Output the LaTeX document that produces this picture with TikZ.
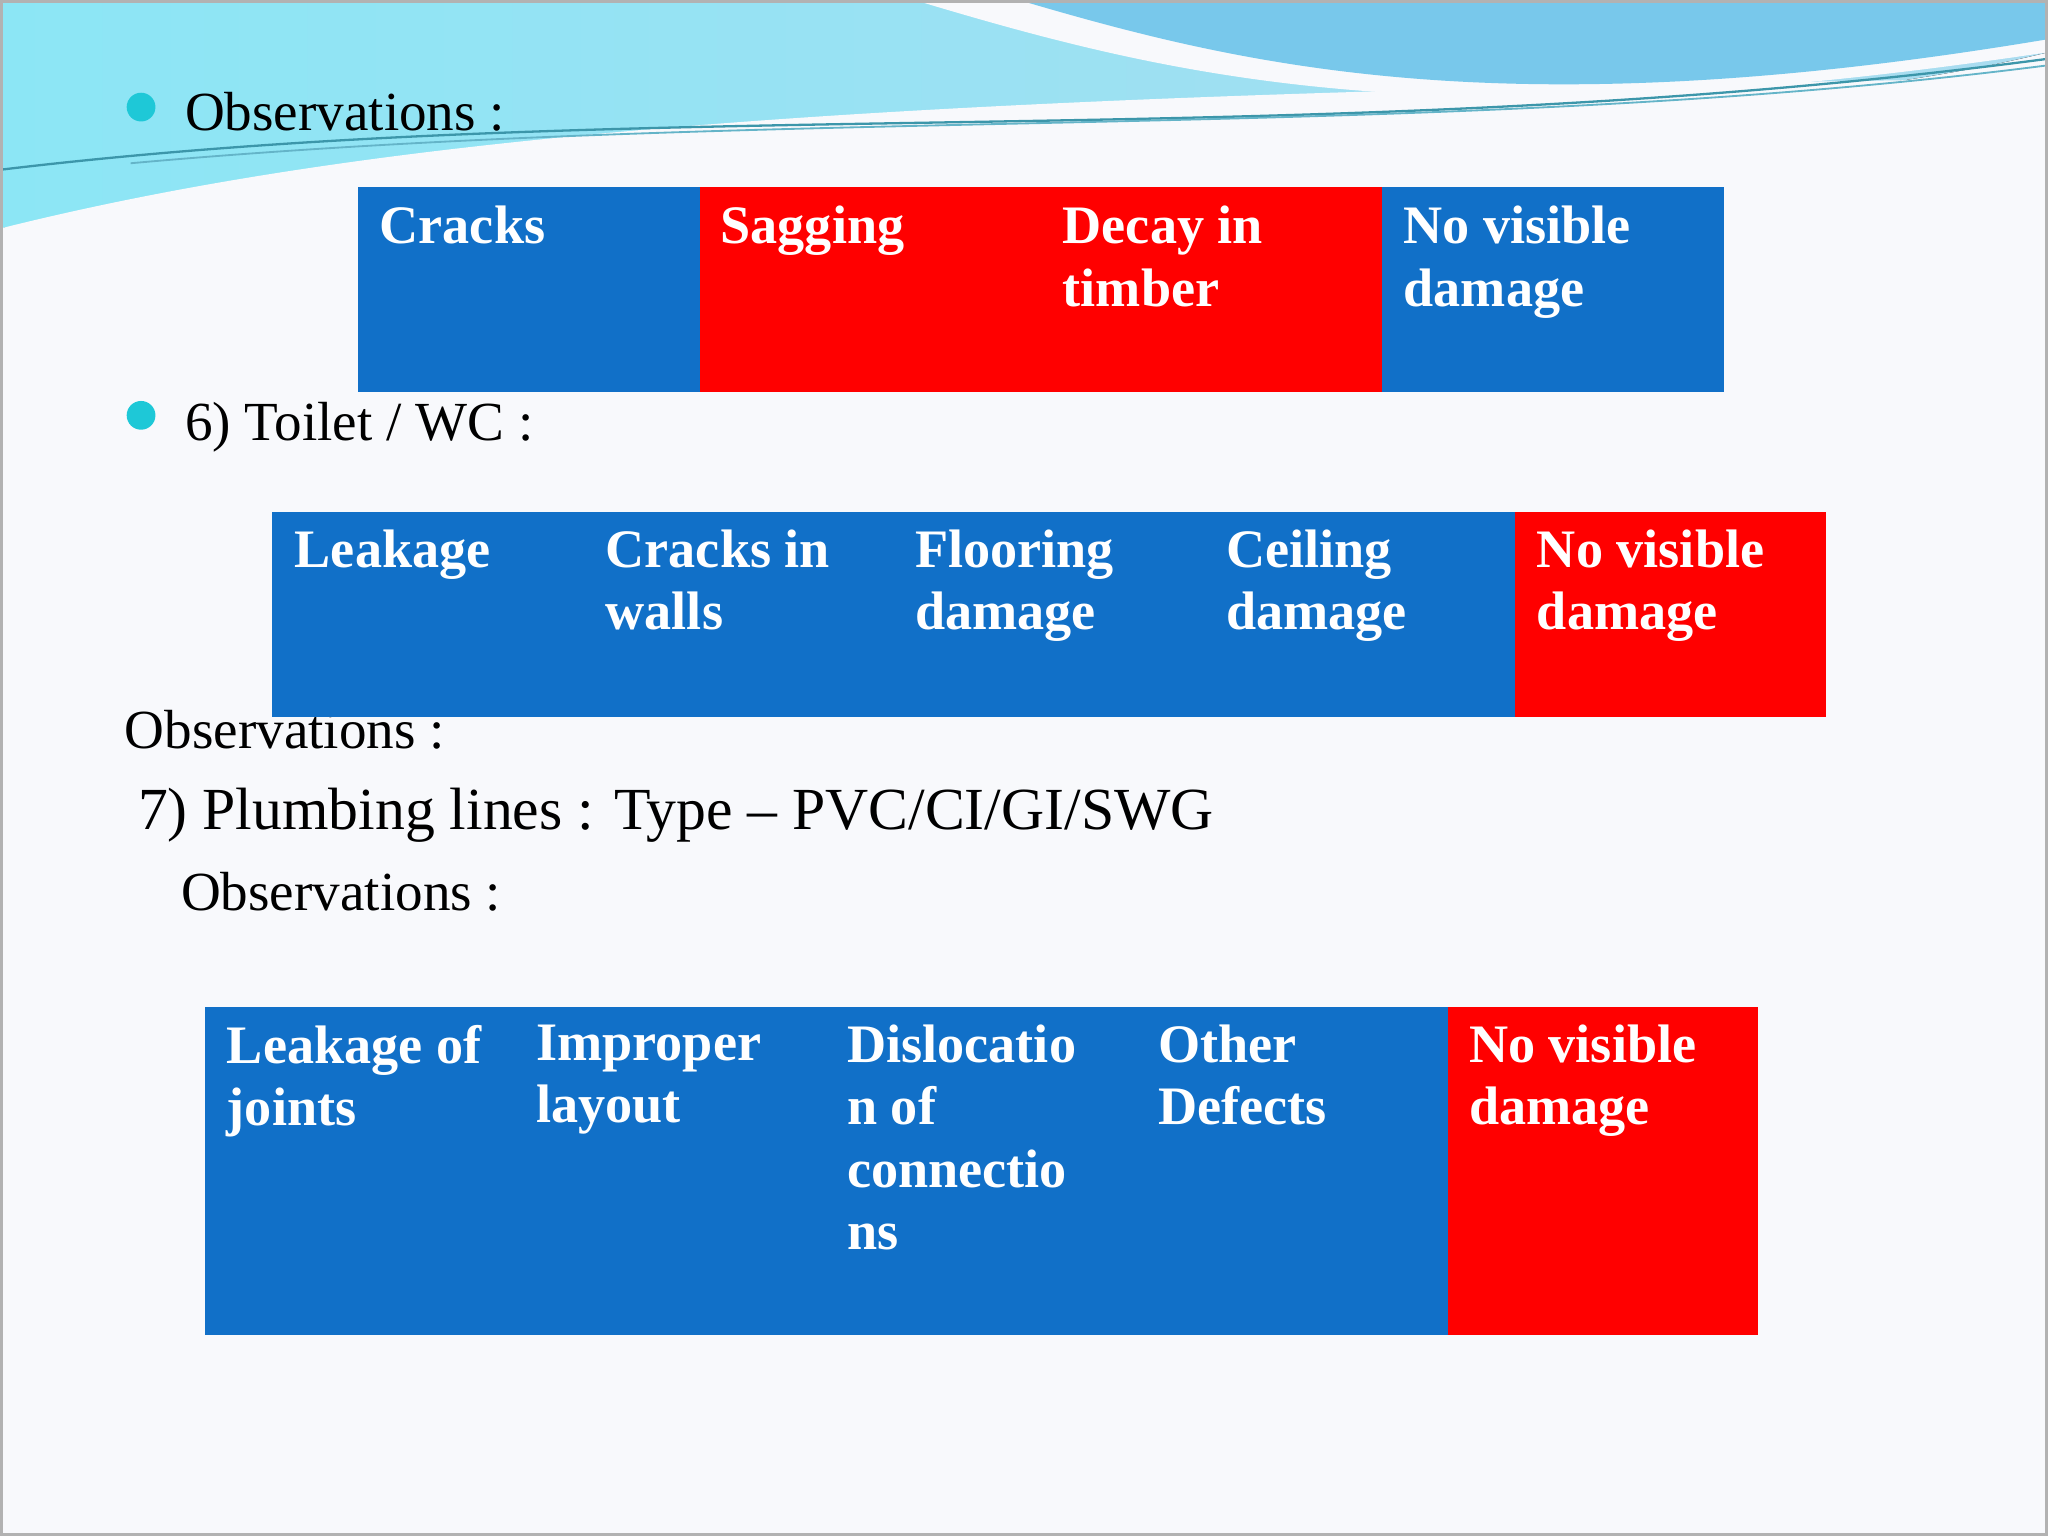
\documentclass[tikz,border=0pt]{standalone}
\usepackage{fontspec}
\setmainfont{Liberation Serif}
\definecolor{cblue}{RGB}{17,112,200}
\definecolor{cbul}{RGB}{30,200,215}
\definecolor{wa}{RGB}{140,230,245}
\definecolor{wb}{RGB}{170,220,240}
\definecolor{wc}{RGB}{120,200,235}
\definecolor{la}{RGB}{60,150,170}
\definecolor{lb}{RGB}{100,180,200}
\definecolor{bg}{RGB}{248,249,252}
\begin{document}
\begin{tikzpicture}[x=0.01cm,y=-0.01cm,
  blu/.style={fill=cblue,draw=none},
  rd/.style={fill=red,draw=none},
  cell/.style={anchor=north west,align=left,inner sep=0pt,text=white,font=\fontsize{11.8}{13.6}\selectfont\bfseries},
  body/.style={anchor=base west,inner sep=0pt,font=\fontsize{12}{14}\selectfont},
  bul/.style={circle,fill=cbul,minimum size=0.22cm,inner sep=0pt}]
\useasboundingbox (0,0) rectangle (1568,1176);
\fill[bg] (0,0) rectangle (1568,1176);
% header waves
\fill[left color=wa,right color=wb] (0,0) -- (1568,0) -- (1568,40) .. controls (1200,130) and (700,40) .. (0,175) -- cycle;
\fill[bg] (700,0) .. controls (900,60) and (1100,110) .. (1568,40) -- (1568,0) -- cycle;
\fill[wc] (780,0) .. controls (950,50) and (1150,100) .. (1568,30) -- (1568,0) -- cycle;
\fill[bg] (0,175) .. controls (300,100) and (700,70) .. (1568,60) -- (1568,75) .. controls (900,95) and (400,120) .. (0,200) -- cycle;
\draw[la,line width=0.5pt] (0,130) .. controls (500,70) and (1000,120) .. (1568,45);
\draw[lb,line width=0.4pt] (100,125) .. controls (600,80) and (1100,110) .. (1568,50);
\draw[gray!60,line width=0.6pt] (1,1) rectangle (1567,1175);
% text
\node[bul] (b1) at (108,82) {};
\node[body] (t1) at (141,100) {Observations :};
\node[bul] (b2) at (108,318) {};
\node[body] (t2) at (141,337) {6) Toilet / WC :};
\node[body] (t3) at (95,573) {Observations :};
\node[body,font=\fontsize{13}{15}\selectfont] (t4) at (105,635) {7) Plumbing lines : Type – PVC/CI/GI/SWG};
\node[body] (t5) at (138,697) {Observations :};
% row 1
\fill[blu] (274,143) rectangle (536,300);
\fill[rd] (536,143) rectangle (1058,300);
\fill[blu] (1058,143) rectangle (1320,300);
\node[cell] (r1a) at (290,157) {Cracks};
\node[cell] (r1b) at (551,157) {Sagging};
\node[cell] (r1c) at (813,157) {Decay in\\timber};
\node[cell] (r1d) at (1074,157) {No visible\\damage};
% row 2
\fill[blu] (208,392) rectangle (1160,549);
\fill[rd] (1160,392) rectangle (1398,549);
\node[cell] (r2a) at (225,405) {Leakage};
\node[cell] (r2b) at (463,405) {Cracks in\\walls};
\node[cell] (r2c) at (700,405) {Flooring\\damage};
\node[cell] (r2d) at (938,405) {Ceiling\\damage};
\node[cell] (r2e) at (1176,405) {No visible\\damage};
% row 3
\fill[blu] (157,771) rectangle (1109,1022);
\fill[rd] (1109,771) rectangle (1346,1022);
\node[cell] (r3a) at (173,784) {Leakage of\\joints};
\node[cell] (r3b) at (410,784) {Improper\\layout};
\node[cell] (r3c) at (648,784) {Dislocatio\\n of\\connectio\\ns};
\node[cell] (r3d) at (886,784) {Other\\Defects};
\node[cell] (r3e) at (1124,784) {No visible\\damage};
\end{tikzpicture}
\end{document}
